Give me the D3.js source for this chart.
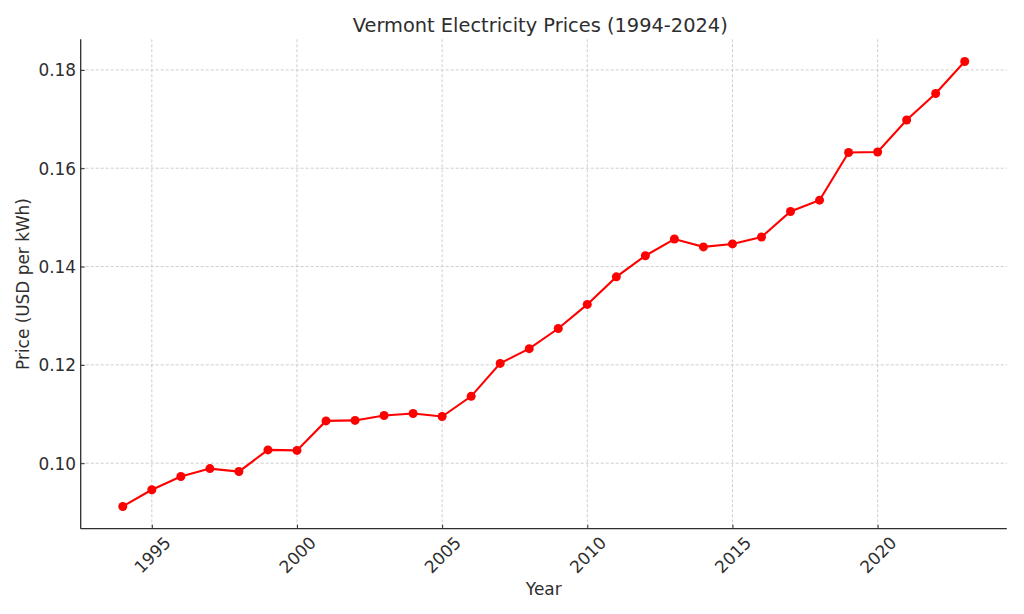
<!DOCTYPE html>
<html>
<head>
<meta charset="utf-8">
<script src="https://cdn.jsdelivr.net/npm/d3@7"></script>
<style>
  html, body { margin: 0; padding: 0; background: #fff; }
  svg { display: block; font-family: "DejaVu Sans", sans-serif; }
</style>
</head>
<body>
<svg id="chart" width="1024" height="614"></svg>
<script>
const years = [1994,1995,1996,1997,1998,1999,2000,2001,2002,2003,2004,2005,2006,2007,2008,2009,2010,2011,2012,2013,2014,2015,2016,2017,2018,2019,2020,2021,2022,2023];
const prices = [0.0912,0.0946,0.0973,0.0989,0.0983,0.1027,0.1026,0.1086,0.1087,0.1097,0.1101,0.1095,0.1136,0.1203,0.1233,0.1274,0.1323,0.1379,0.1422,0.1456,0.1440,0.1446,0.1460,0.1512,0.1535,0.1632,0.1633,0.1698,0.1752,0.1817];
const xTicks = [1995,2000,2005,2010,2015,2020];
const yTicks = [0.10,0.12,0.14,0.16,0.18];
const titleText = "Vermont Electricity Prices (1994-2024)";
const xLabelText = "Year";
const yLabelText = "Price (USD per kWh)";

(function () {
const svg = d3.select("#chart");
const mLeft = 80.7, mRight = 1006.8, mTop = 39.3, mBottom = 528.7;
const textColor = "#2e2e2e";

// matplotlib-like 5% margins
const xMin = d3.min(years), xMax = d3.max(years);
const xPad = (xMax - xMin) * 0.05;
const yMin = d3.min(prices), yMax = d3.max(prices);
const yPad = (yMax - yMin) * 0.05;

const x = d3.scaleLinear().domain([xMin - xPad, xMax + xPad]).range([mLeft, mRight]);
const y = d3.scaleLinear().domain([yMin - yPad, yMax + yPad]).range([mBottom, mTop]);

// grid
const grid = svg.append("g");
grid.selectAll(".vg").data(xTicks).join("line")
  .attr("x1", d => x(d)).attr("x2", d => x(d))
  .attr("y1", mTop).attr("y2", mBottom)
  .attr("stroke", "#c8c8c8").attr("stroke-width", 0.9).attr("stroke-dasharray", "3,2");
grid.selectAll(".hg").data(yTicks).join("line")
  .attr("x1", mLeft).attr("x2", mRight)
  .attr("y1", d => y(d)).attr("y2", d => y(d))
  .attr("stroke", "#c8c8c8").attr("stroke-width", 0.9).attr("stroke-dasharray", "3,2");

// line
const line = d3.line().x((d, i) => x(years[i])).y(d => y(d));
svg.append("path").datum(prices)
  .attr("d", line)
  .attr("fill", "none").attr("stroke", "#ff0000").attr("stroke-width", 2.1);

svg.selectAll(".pt").data(prices).join("circle")
  .attr("cx", (d, i) => x(years[i])).attr("cy", d => y(d))
  .attr("r", 4.5).attr("fill", "#ff0000");

// axes via d3
const xAxis = d3.axisBottom(x).tickValues(xTicks).tickSize(-4).tickPadding(0).tickFormat(d3.format("d"));
const gx = svg.append("g").attr("transform", `translate(0,${mBottom})`).call(xAxis);
gx.select(".domain").remove();
gx.selectAll(".tick line").attr("stroke", textColor);
gx.selectAll(".tick text")
  .attr("fill", textColor).attr("font-size", "16.9px").attr("font-family", "DejaVu Sans")
  .attr("text-anchor", "middle").attr("y", 0).attr("dy", "0.36em")
  .attr("transform", "translate(0,26) rotate(-45)");

const yAxis = d3.axisLeft(y).tickValues(yTicks).tickSize(-4).tickPadding(4.7).tickFormat(d3.format(".2f"));
const gy = svg.append("g").attr("transform", `translate(${mLeft},0)`).call(yAxis);
gy.select(".domain").remove();
gy.selectAll(".tick line").attr("stroke", textColor);
gy.selectAll(".tick text")
  .attr("fill", textColor).attr("font-size", "16.9px").attr("font-family", "DejaVu Sans")
  .attr("dy", "0.36em");

// spines
svg.append("line").attr("x1", mLeft).attr("x2", mLeft).attr("y1", mTop).attr("y2", mBottom)
  .attr("stroke", textColor).attr("stroke-width", 1.3);
svg.append("line").attr("x1", mLeft).attr("x2", mRight).attr("y1", mBottom).attr("y2", mBottom)
  .attr("stroke", textColor).attr("stroke-width", 1.3);

// titles
svg.append("text").attr("x", (mLeft + mRight) / 2 - 3.5).attr("y", 31.5)
  .attr("text-anchor", "middle").attr("font-size", "19.4px").attr("fill", textColor)
  .text(titleText);
svg.append("text").attr("x", (mLeft + mRight) / 2).attr("y", 594.5)
  .attr("text-anchor", "middle").attr("font-size", "16.9px").attr("fill", textColor)
  .text(xLabelText);
svg.append("text").attr("transform", `translate(28.5,${(mTop + mBottom) / 2}) rotate(-90)`)
  .attr("text-anchor", "middle").attr("font-size", "16.9px").attr("fill", textColor)
  .text(yLabelText);
})();
</script>
</body>
</html>
